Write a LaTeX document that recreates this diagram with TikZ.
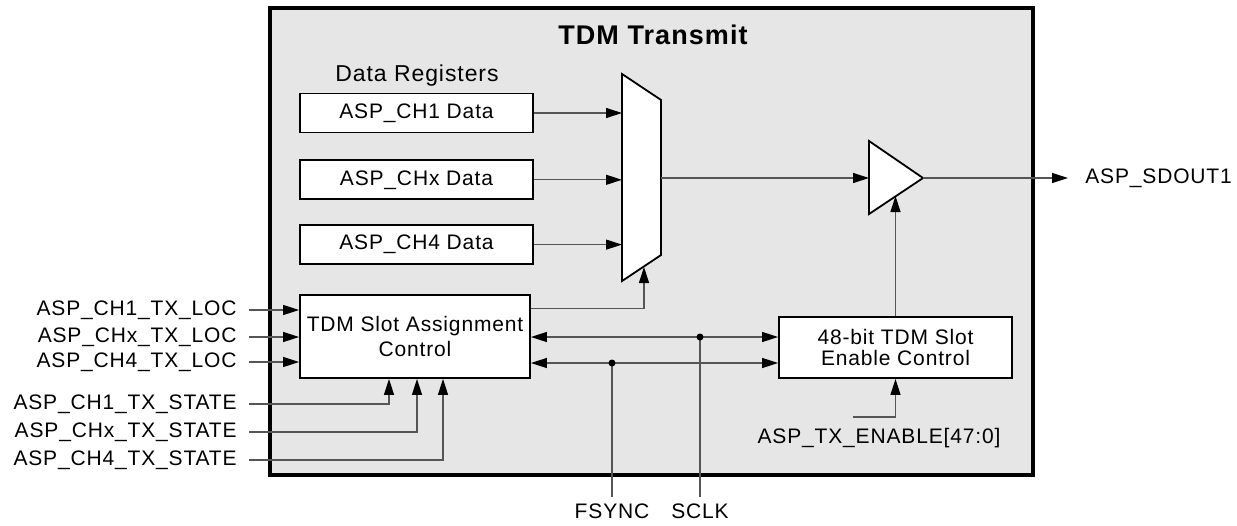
\documentclass[tikz,border=0pt]{standalone}
\usepackage{fontspec}
\setmainfont{Liberation Sans}[LetterSpace=4]
\usetikzlibrary{arrows.meta,positioning,calc}
\definecolor{PanelGray}{HTML}{E6E6E6}
\definecolor{WireGray}{HTML}{555555}

\begin{document}
\begin{tikzpicture}[x=0.5pt,y=-0.5pt,
    every node/.style={font=\fontsize{10.5}{12.5}\selectfont},
    >={Triangle[length=8pt,width=5pt,color=black]},
    regbox/.style={draw,fill=white,line width=0.9pt,minimum width=116.5pt,minimum height=19.5pt,inner sep=0pt},
    ctlbox/.style={draw,fill=white,line width=0.9pt,align=center,inner sep=0pt},
    wire/.style={draw=WireGray,line width=0.6pt},
    sig/.style={wire,->},
    bus/.style={wire,<->},
    pin/.style={anchor=east,inner xsep=6pt,inner ysep=0pt}
  ]
    \useasboundingbox (0,0) rectangle (1237,525);
    \draw[line width=1.6pt,fill=PanelGray] (270,8) rectangle (1033,475);
    \node[font=\fontsize{13.5}{15}\selectfont\bfseries] (title) at (653,35) {TDM Transmit};
    \node[font=\fontsize{11.5}{14}\selectfont] (reglbl) at (417,76) {Data Registers};

    \node[regbox] (reg1) at (416.5,113) {ASP\_CH1 Data};
    \node[regbox,below=13pt of reg1] (reg2) {ASP\_CHx Data};
    \node[regbox,below=12pt of reg2] (reg3) {ASP\_CH4 Data};

    \coordinate (mux-tl) at (622,74);
    \coordinate (mux-out) at (661,178);
    \coordinate (mux-sel) at (644,267);
    \draw[fill=white,line width=0.9pt] (mux-tl) -- (661,100) -- (661,255) -- (622,281) -- cycle;

    \coordinate (buf-in) at (869,178);
    \coordinate (buf-out) at (923,178);
    \coordinate (buf-en) at (895.5,196);
    \draw[fill=white,line width=0.9pt] (869,141) -- (buf-out) -- (869,214) -- cycle;

    \node[ctlbox,minimum width=115pt,minimum height=41.5pt] (slot) at (415,336.5) {TDM Slot Assignment\\Control};
    \node[ctlbox,minimum width=116.5pt,minimum height=30.5pt,font=\fontsize{10.5}{10.5}\selectfont] (en) at (895.5,347.5) {48-bit TDM Slot\\Enable Control};

    \node[anchor=west,inner sep=0pt] (sdout) at (1085,178) {ASP\_SDOUT1};
    \node (txen) at (879,438) {ASP\_TX\_ENABLE[47:0]};
    \coordinate (txen-in) at (853,417);

    \node[pin] (loc1) at (249,310) {ASP\_CH1\_TX\_LOC};
    \node[pin] (loc2) at (249,337) {ASP\_CHx\_TX\_LOC};
    \node[pin] (loc3) at (249,362) {ASP\_CH4\_TX\_LOC};
    \node[pin] (st1) at (249,404) {ASP\_CH1\_TX\_STATE};
    \node[pin] (st2) at (249,432) {ASP\_CHx\_TX\_STATE};
    \node[pin] (st3) at (249,460) {ASP\_CH4\_TX\_STATE};

    \coordinate (sclk) at (700,337);
    \coordinate (fsync) at (612,363);
    \node[anchor=north] (sclk-lbl) at (700,497) {SCLK};
    \node[anchor=north] (fsync-lbl) at (612,497) {FSYNC};

    \draw[sig] (reg1.east) -- (reg1.east -| mux-tl);
    \draw[sig] (reg2.east) -- (reg2.east -| mux-tl);
    \draw[sig] (reg3.east) -- (reg3.east -| mux-tl);
    \draw[sig] (mux-out) -- (buf-in);
    \draw[sig,shorten >=8.5pt] (buf-out) -- (sdout.west);
    \draw[sig] ($(slot.north east)+(0,14)$) -| (mux-sel);
    \draw[sig] (en.north) -- (buf-en);
    \draw[sig] (txen-in) -| (en.south);

    \draw[sig] (loc1.east) -- (loc1.east -| slot.west);
    \draw[sig] (loc2.east) -- (loc2.east -| slot.west);
    \draw[sig] (loc3.east) -- (loc3.east -| slot.west);
    \draw[sig] (st1.east) -| ($(slot.south)+(-26,0)$);
    \draw[sig] (st2.east) -| ($(slot.south)+(2,0)$);
    \draw[sig] (st3.east) -| ($(slot.south)+(28,0)$);

    \draw[bus] (slot.east |- sclk) -- (en.west |- sclk);
    \draw[bus] (slot.east |- fsync) -- (en.west |- fsync);
    \draw[wire] (sclk) -- (sclk-lbl.north);
    \draw[wire] (fsync) -- (fsync-lbl.north);
    \fill (sclk) circle[radius=1.75pt];
    \fill (fsync) circle[radius=1.75pt];
  \end{tikzpicture}
\end{document}
